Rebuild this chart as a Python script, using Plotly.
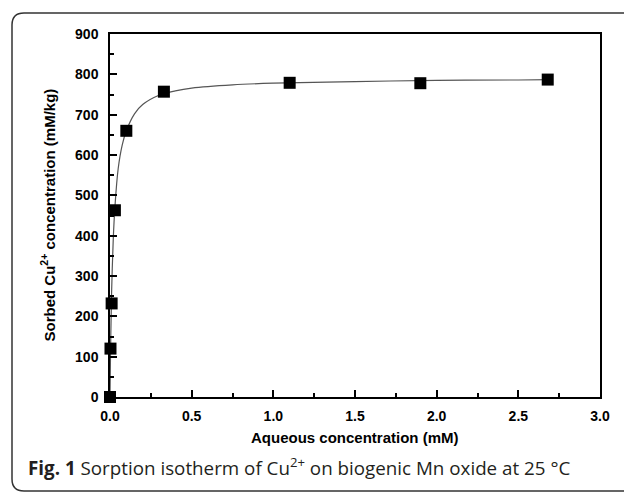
import plotly.graph_objects as go

# Data
aq_conc = [0.0, 0.003, 0.01, 0.03, 0.10, 0.33, 1.10, 1.90, 2.68]
sorbed = [0, 120, 232, 463, 660, 757, 779, 778, 787]

# Fitted curve, read as points from the picture
fit_x = [0, 0.0025, 0.005, 0.01, 0.02, 0.03, 0.05, 0.075, 0.1, 0.15, 0.2, 0.3, 0.4,
         0.5, 0.75, 1.0, 1.5, 2.0, 2.5, 2.7]
fit_y = [0, 85, 155, 262, 392, 470, 566, 625, 660, 702, 725, 748, 759,
         766, 774, 778, 782, 785, 786, 787]

x_ticks = [0, 0.5, 1.0, 1.5, 2.0, 2.5, 3.0]
x_ticklabels = ["0.0", "0.5", "1.0", "1.5", "2.0", "2.5", "3.0"]
y_ticks = [0, 100, 200, 300, 400, 500, 600, 700, 800, 900]

W, H = 624, 493
L, R, T, B = 110, 600, 34, 397  # plot area in pixels


def px(x):
    return (x - L) / (R - L)


def py(y):
    return (B - y) / (B - T)


fig = go.Figure()
fig.add_trace(go.Scatter(x=fit_x, y=fit_y, mode="lines",
                         line=dict(color="#555555", width=1.2, shape="spline"),
                         hoverinfo="skip", showlegend=False, cliponaxis=False))
fig.add_trace(go.Scatter(x=aq_conc, y=sorbed, mode="markers",
                         marker=dict(symbol="square", size=12, color="black"),
                         showlegend=False, cliponaxis=False))

axis_font = dict(family="Liberation Sans, Arial", size=14, color="black", weight="bold")
title_font = dict(family="Liberation Sans, Arial", size=15, color="black")

fig.update_xaxes(range=[0, 3], tickvals=x_ticks, ticktext=x_ticklabels,
                 ticks="inside", ticklen=7, tickwidth=1.5, tickcolor="black",
                 minor=dict(ticks="inside", ticklen=4, dtick=0.25, tickcolor="black", tickwidth=1.5),
                 showline=True, linecolor="black", linewidth=1.5, mirror=True,
                 showgrid=False, zeroline=False, automargin=False,
                 tickfont=axis_font, ticklabelstandoff=5)
fig.update_yaxes(range=[0, 900], tickvals=y_ticks,
                 ticks="inside", ticklen=7, tickwidth=1.5, tickcolor="black",
                 minor=dict(ticks="inside", ticklen=4, dtick=50, tickcolor="black", tickwidth=1.5),
                 showline=True, linecolor="black", linewidth=1.5, mirror=True,
                 showgrid=False, zeroline=False, automargin=False,
                 tickfont=axis_font, ticklabelstandoff=7)

# Axis titles
fig.add_annotation(x=0.5, y=py(437), xref="paper", yref="paper",
                   xanchor="center", yanchor="middle", showarrow=False,
                   text="<b>Aqueous concentration (mM)</b>", font=title_font)
fig.add_annotation(x=px(48), y=0.5, xref="paper", yref="paper",
                   xanchor="center", yanchor="middle", showarrow=False, textangle=-90,
                   text="<b>Sorbed Cu<sup>2+</sup> concentration (mM/kg)</b>", font=title_font)

# Rounded outer border (top-left and bottom-left corners)
x0, x1 = px(12), px(650)
y0, y1 = py(13), py(491)
rx = 12 / (R - L)
ry = 12 / (B - T)
path = (f"M {x1},{y0} L {x0 + rx},{y0} Q {x0},{y0} {x0},{y0 - ry} "
        f"L {x0},{y1 + ry} Q {x0},{y1} {x0 + rx},{y1} L {x1},{y1}")
fig.add_shape(type="path", path=path, xref="paper", yref="paper",
              line=dict(color="#333333", width=1.5))

fig.add_annotation(x=px(26), y=py(467), xref="paper", yref="paper",
                   xanchor="left", yanchor="middle", showarrow=False,
                   text="<b>Fig. 1</b> Sorption isotherm of Cu<sup>2+</sup> on biogenic Mn oxide at 25 °C",
                   font=dict(family="Open Sans", size=18.8, color="#231f20"))

fig.update_layout(width=W, height=H, margin=dict(l=L, r=W - R, t=T, b=H - B),
                  plot_bgcolor="white", paper_bgcolor="white")

fig.write_html("out.html", config={"displayModeBar": False},
               post_script="document.body.style.margin='0px';")
